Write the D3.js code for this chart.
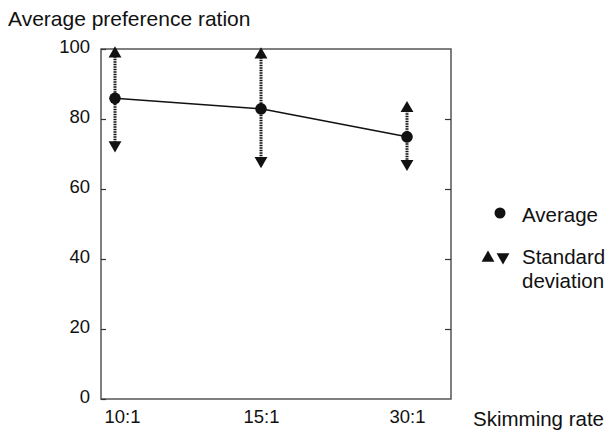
<!DOCTYPE html>
<html>
<head>
<meta charset="utf-8">
<script src="https://cdn.jsdelivr.net/npm/d3@7"></script>
<style>
	body { margin: 0; background: #fff; }
	text { font-family: Arial, "Liberation Sans", sans-serif; fill: #111; }
	.axis path { display: none; }
	.axis line { stroke: #333; stroke-width: 1.2; }
	.axis text { font-size: 18.5px; font-family: Arial, "Liberation Sans", sans-serif; }
</style>
</head>
<body>
<script>
//chart data
var rates = ["10:1", "15:1", "30:1"];
var averages = [85.9, 82.9, 74.9];
var sdUpper = [100.5, 100.2, 84.9];
var sdLower = [70.7, 66.2, 65.4];
var yTicks = [0, 20, 40, 60, 80, 100];

//frame dimensions
var width = 607,
	height = 432,
	marginLeft = 101,
	marginTop = 49,
	plotWidth = 350,
	plotHeight = 350;

var svg = d3.select("body")
	.append("svg")
	.attr("width", width)
	.attr("height", height);

var chart = svg.append("g")
	.attr("transform", "translate(" + marginLeft + "," + marginTop + ")");

//scales
var x = d3.scalePoint()
	.domain(rates)
	.range([14, 306]);

var y = d3.scaleLinear()
	.domain([0, 100])
	.range([plotHeight, 0]);

//plot frame
chart.append("rect")
	.attr("width", plotWidth)
	.attr("height", plotHeight)
	.attr("fill", "none")
	.attr("stroke", "#555")
	.attr("stroke-width", 1.5);

//y axis, ticks point inward
var yAxis = chart.append("g")
	.attr("class", "axis")
	.call(d3.axisLeft(y).tickValues(yTicks).tickSize(-5).tickPadding(11));
yAxis.selectAll("text").attr("dy", "0.2em");

chart.append("g")
	.attr("class", "axis")
	.attr("transform", "translate(" + plotWidth + ",0)")
	.call(d3.axisRight(y).tickValues(yTicks.slice(1, 5)).tickSize(-6).tickFormat(""));

//x axis labels only
var xAxis = chart.append("g")
	.attr("class", "axis")
	.attr("transform", "translate(0," + plotHeight + ")")
	.call(d3.axisBottom(x).tickSize(0).tickPadding(10));
xAxis.selectAll("text")
	.attr("dx", function(d, i){ return i == 0 ? 7 : 0; })
	.attr("dy", "0.75em");

//standard deviation bars
var bars = chart.selectAll(".sd")
	.data(rates)
	.enter()
	.append("g")
	.attr("class", "sd");

bars.append("line")
	.attr("x1", function(d){ return x(d); })
	.attr("x2", function(d){ return x(d); })
	.attr("y1", function(d, i){ return y(sdUpper[i]) + 9; })
	.attr("y2", function(d, i){ return y(sdLower[i]) - 9; })
	.attr("stroke", "#111")
	.attr("stroke-width", 3)
	.attr("stroke-dasharray", "1.5,1");

var tri = d3.symbol().type(d3.symbolTriangle).size(72);

bars.append("path")
	.attr("d", tri)
	.attr("transform", function(d, i){
		return "translate(" + x(d) + "," + (y(sdUpper[i]) + 6.5) + ")";
	})
	.attr("fill", "#111");

bars.append("path")
	.attr("d", tri)
	.attr("transform", function(d, i){
		return "translate(" + x(d) + "," + (y(sdLower[i]) - 6.5) + ") rotate(180)";
	})
	.attr("fill", "#111");

//average line and points
var line = d3.line()
	.x(function(d, i){ return x(rates[i]); })
	.y(function(d){ return y(d); });

chart.append("path")
	.datum(averages)
	.attr("d", line)
	.attr("fill", "none")
	.attr("stroke", "#111")
	.attr("stroke-width", 1.5);

chart.selectAll(".avg")
	.data(averages)
	.enter()
	.append("circle")
	.attr("class", "avg")
	.attr("cx", function(d, i){ return x(rates[i]); })
	.attr("cy", function(d){ return y(d); })
	.attr("r", 5.8)
	.attr("fill", "#111");

//titles
svg.append("text")
	.attr("x", 8)
	.attr("y", 26)
	.style("font-size", "21px")
	.text("Average preference ration");

svg.append("text")
	.attr("x", 473)
	.attr("y", 426)
	.style("font-size", "20.5px")
	.text("Skimming rate");

//legend
var legend = svg.append("g")
	.attr("transform", "translate(500,213)");

legend.append("circle")
	.attr("r", 5.5)
	.attr("fill", "#111");

legend.append("text")
	.attr("x", 22)
	.attr("y", 9)
	.style("font-size", "20.5px")
	.text("Average");

legend.append("path")
	.attr("d", tri)
	.attr("transform", "translate(-12,45)")
	.attr("fill", "#111");

legend.append("path")
	.attr("d", tri)
	.attr("transform", "translate(3,44) rotate(180)")
	.attr("fill", "#111");

legend.append("text")
	.attr("x", 22)
	.attr("y", 51)
	.style("font-size", "20.5px")
	.text("Standard");

legend.append("text")
	.attr("x", 22)
	.attr("y", 75)
	.style("font-size", "20.5px")
	.text("deviation");
</script>
</body>
</html>
